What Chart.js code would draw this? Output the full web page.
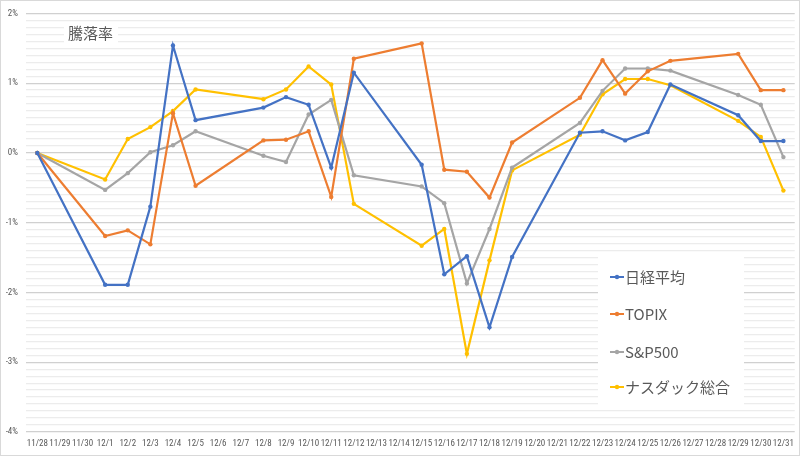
<!DOCTYPE html>
<html><head><meta charset="utf-8">
<script src="https://cdn.jsdelivr.net/npm/chart.js@4/dist/chart.umd.min.js"></script>
<style>html,body{margin:0;padding:0;background:#fff}#wrap{width:800px;height:456px;position:relative}</style>
</head><body><div id="wrap"><canvas id="c" width="800" height="456"></canvas></div>
<script>
const categories = ["11/28","11/29","11/30","12/1","12/2","12/3","12/4","12/5","12/6","12/7","12/8","12/9","12/10","12/11","12/12","12/13","12/14","12/15","12/16","12/17","12/18","12/19","12/20","12/21","12/22","12/23","12/24","12/25","12/26","12/27","12/28","12/29","12/30","12/31"];
const seriesNames = ["日経平均","TOPIX","S&P500","ナスダック総合"];
const nikkei = [0,null,null,-1.89,-1.89,-0.77,1.54,0.47,null,null,0.65,0.80,0.69,-0.21,1.15,null,null,-0.17,-1.74,-1.48,-2.50,-1.49,null,null,0.29,0.31,0.18,0.30,0.98,null,null,0.54,0.17,0.17];
const topix = [0,null,null,-1.19,-1.11,-1.31,0.57,-0.47,null,null,0.18,0.19,0.31,-0.63,1.35,null,null,1.57,-0.24,-0.27,-0.64,0.15,null,null,0.79,1.33,0.85,1.17,1.32,null,null,1.42,0.90,0.90];
const sp500 = [0,null,null,-0.53,-0.29,0.01,0.11,0.31,null,null,-0.04,-0.13,0.55,0.76,-0.32,null,null,-0.48,-0.72,-1.87,-1.09,-0.21,null,null,0.43,0.89,1.21,1.21,1.18,null,null,0.83,0.69,-0.06];
const nasdaq = [0,null,null,-0.38,0.20,0.37,0.60,0.91,null,null,0.77,0.91,1.24,0.98,-0.73,null,null,-1.33,-1.09,-2.88,-1.54,-0.25,null,null,0.26,0.84,1.06,1.06,0.97,null,null,0.46,0.23,-0.54];
const chartTitle = "騰落率";
const yMin = -4, yMax = 2, yMinorStep = 0.1;

const colors = ["#4472C4","#ED7D31","#A5A5A5","#FFC000"];
const values = [nikkei, topix, sp500, nasdaq];
const FONT = "'Noto Sans CJK JP','Noto Sans',sans-serif";
const TICKFONT = "'Liberation Sans Narrow','Roboto Condensed','Liberation Sans',sans-serif";

const bgPlugin = {
  id:'frame',
  beforeDraw(chart){
    const c = chart.ctx; c.save(); c.fillStyle='#fff'; c.fillRect(0,0,chart.width,chart.height); c.restore();
  },
  afterDraw(chart){
    const c = chart.ctx; c.save();
    c.fillStyle='#fff'; c.fillRect(64,23,54,20);
    c.fillStyle='#595959'; c.font="15px "+FONT; c.textBaseline='middle'; c.textAlign='left';
    c.fillText(chartTitle,68,33);
    c.fillStyle='#fff'; c.fillRect(598,256,146,154);
    const ys=[277,314,352,387];
    chart.data.datasets.forEach((ds,i)=>{
      const y=ys[i];
      c.strokeStyle=ds.borderColor; c.lineWidth=2;
      c.beginPath(); c.moveTo(610,y); c.lineTo(624,y); c.stroke();
      c.fillStyle=ds.borderColor; c.beginPath(); c.arc(617,y,2.2,0,Math.PI*2); c.fill();
      c.fillStyle='#595959'; c.font="15px "+FONT; c.textBaseline='middle';
      c.fillText(ds.label,625,y);
    });
    c.strokeStyle='#d9d9d9'; c.lineWidth=1; c.strokeRect(0.5,0.5,chart.width-1,chart.height-1);
    c.restore();
  }
};

new Chart(document.getElementById('c'),{
  type:'line',
  data:{labels:categories,datasets:seriesNames.map((n,i)=>({label:n,data:values[i],borderColor:colors[i],backgroundColor:colors[i],borderWidth:2.2,pointRadius:2.2,pointHoverRadius:2.2,pointBorderWidth:0,spanGaps:true,tension:0}))},
  options:{
    responsive:false,animation:false,
    layout:{padding:{top:8,right:2,bottom:0,left:0}},
    plugins:{legend:{display:false},tooltip:{enabled:false},title:{display:false}},
    scales:{
      x:{
        offset:true,
        grid:{display:false,drawTicks:false,offset:true},border:{display:false},
        ticks:{autoSkip:false,maxRotation:0,minRotation:0,padding:6,color:'#595959',font:{size:9,family:TICKFONT}},
        afterFit(s){s.height=24;}
      },
      y:{
        min:yMin,max:yMax,
        border:{display:false},
        grid:{drawTicks:false,color(ctx){const v=ctx.tick.value;return Math.abs(v-Math.round(v))<1e-6?'#d0d0d0':'#ececec';},lineWidth:1.3},
        ticks:{stepSize:yMinorStep,autoSkip:false,maxTicksLimit:200,padding:8,color:'#595959',font:{size:9,family:TICKFONT},
          callback(v){return Math.abs(v-Math.round(v))<1e-6?Math.round(v)+'%':'';}},
        afterFit(s){s.width=26;}
      }
    }
  },
  plugins:[bgPlugin]
});
</script></body></html>
